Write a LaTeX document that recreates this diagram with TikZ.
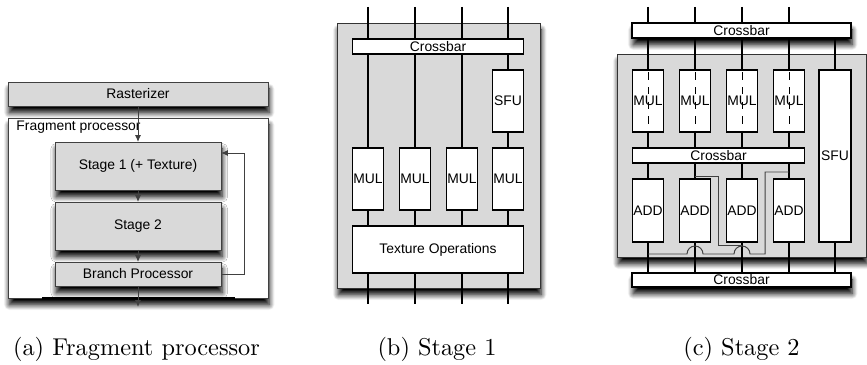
\documentclass[tikz,border=0pt]{standalone}
\usepackage{fontspec}
\newfontfamily\helv{Liberation Sans}
\usetikzlibrary{arrows.meta,calc,shadows.blur}
\def\px{0.411pt}
\definecolor{boxgray}{gray}{0.85}
\definecolor{linegray}{gray}{0.25}
\tikzset{
	lbl/.style={font=\helv\fontsize{5.7}{6.5}\selectfont},
	sz/.style 2 args={minimum width=#1*\px, minimum height=#2*\px},
	shadowed/.style={blur shadow={shadow xshift=0.5pt, shadow yshift=-2.8pt, shadow blur radius=2.2pt, shadow blur steps=10, shadow opacity=100}},
	graybox/.style={draw=linegray, line width=0.4pt, fill=boxgray, inner sep=0pt, outer sep=0pt, shadowed, lbl},
	unit/.style={draw=black, line width=0.6pt, fill=white, inner sep=0pt, outer sep=0pt, lbl},
	bar/.style={unit, shadowed},
	flow/.style={draw=linegray, line width=0.4pt, -{Latex[length=2.8pt,width=2.4pt]}},
	wire/.style={line width=0.6pt},
	xwire/.style={draw=linegray, line width=0.4pt},
	subcap/.style={anchor=base, font=\normalsize}
}
\begin{document}
\begin{tikzpicture}[x=\px,y=-\px]
	\useasboundingbox (0,0) rectangle (867,365);
	% (a) fragment processor
	\node[graybox, sz={260}{24}] (rast) at (138,94) {Rasterizer};
	\node[graybox, fill=white, sz={260}{180}] (frag) at (138,208) {};
	\node[lbl, anchor=west, inner sep=0pt] (fraglbl) at (16,127) {Fragment processor};
	\node[graybox, sz={166}{48}] (st1) at (138,166) {Stage 1 (+ Texture)};
	\node[graybox, sz={166}{48}] (st2) at (138,226) {Stage 2};
	\node[graybox, sz={166}{24}] (bp) at (138,274) {Branch Processor};
	\coordinate (aout) at (138,307);
	\coordinate (loop) at (244,153);
	\draw[line width=1.2pt] ($(frag.south)+(-96,0)$) -- ($(frag.south)+(97,0)$);
	\draw[flow] (rast) -- (st1);
	\draw[flow] (st1) -- (st2);
	\draw[flow] (st2) -- (bp);
	\draw[flow] (bp) -- (aout);
	\draw[flow] (bp.east) -| (loop) -- (loop -| st1.east);
	% (b) stage 1
	\node[graybox, draw=black!80, sz={203}{265}] (stage1) at (438.5,155.5) {};
	\node[unit, sz={171}{15}] (bcb) at (438,46.5) {Crossbar};
	\node[unit, sz={31}{62}] (bsfu) at (508,101) {SFU};
	\foreach \i/\x in {1/368,2/415,3/462,4/508}
		\node[unit, sz={31}{62}] (bmul\i) at (\x,179) {MUL};
	\node[unit, sz={171}{47}] (btex) at (438,249.5) {Texture Operations};
	\foreach \i in {1,...,4} {
		\coordinate (bt\i) at ($(bmul\i)+(0,-172)$);
		\coordinate (bb\i) at ($(bmul\i)+(0,125)$);
		\draw[wire] (bt\i) -- (bt\i |- bcb.north);
		\draw[wire] (bmul\i.south) -- (bmul\i.south |- btex.north);
		\draw[wire] (btex.south -| bb\i) -- (bb\i);
	}
	\foreach \i in {1,2,3}
		\draw[wire] (bcb.south -| bmul\i) -- (bmul\i);
	\draw[wire] (bcb.south -| bsfu) -- (bsfu);
	\draw[wire] (bsfu) -- (bmul4);
	% (c) stage 2
	\node[graybox, draw=black!80, sz={249}{203}] (stage2) at (741.5,155.5) {};
	\node[bar, sz={219}{15}] (ctop) at (741.5,30.5) {Crossbar};
	\node[bar, sz={219}{14}] (cbot) at (741.5,280) {Crossbar};
	\foreach \i/\x in {1/648,2/695,3/742,4/789} {
		\node[unit, sz={31}{62}] (cmul\i) at (\x,101) {MUL};
		\node[unit, sz={31}{63}] (cadd\i) at (\x,210.5) {ADD};
	}
	\node[unit, sz={172}{15}] (cmid) at (718.5,155.5) {Crossbar};
	\node[unit, sz={32}{172}] (csfu) at (835,156) {SFU};
	\foreach \i in {1,...,4} {
		\coordinate (ct\i) at ($(cmul\i)+(0,-94)$);
		\draw[wire] (ct\i) -- (ct\i |- ctop.north);
		\draw[wire] (ctop.south -| cmul\i) -- (cmul\i);
		\draw[wire] (cmul\i.south) -- (cmul\i.south |- cmid.north);
		\draw[wire] (cmid.south -| cadd\i) -- (cadd\i);
		\draw[wire] (cadd\i.south) -- (cadd\i.south |- cbot.north);
		\draw[line width=0.4pt, dash pattern=on 3pt off 3pt, dash phase=-1pt] (cmul\i.north) -- (cmul\i.south);
	}
	\draw[wire] (ctop.south -| csfu) -- (csfu);
	\draw[wire] (csfu.south) -- (csfu.south |- cbot.north);
	\coordinate (w1a) at ($(cadd2.north)+(0,-3)$);
	\coordinate (w1b) at ($(cadd3.south)+(0,3)$);
	\coordinate (w2a) at ($(cadd4.north)+(0,-7)$);
	\coordinate (w2b) at ($(cadd1.south)+(0,12)$);
	\draw[xwire] (w1a) -- ++(23,0) |- (w1b);
	\draw[xwire] (w2a) -- ++(-24,0) |- (750,254) arc[start angle=0, end angle=-180, radius=8]
		-- (703,254) arc[start angle=0, end angle=-180, radius=8] -- (w2b);
	% captions
	\node[subcap] (capa) at (136.5,356) {(a) Fragment processor};
	\node[subcap] (capb) at (437,356) {(b) Stage 1};
	\node[subcap] (capc) at (741.5,356) {(c) Stage 2};
\end{tikzpicture}
\end{document}
